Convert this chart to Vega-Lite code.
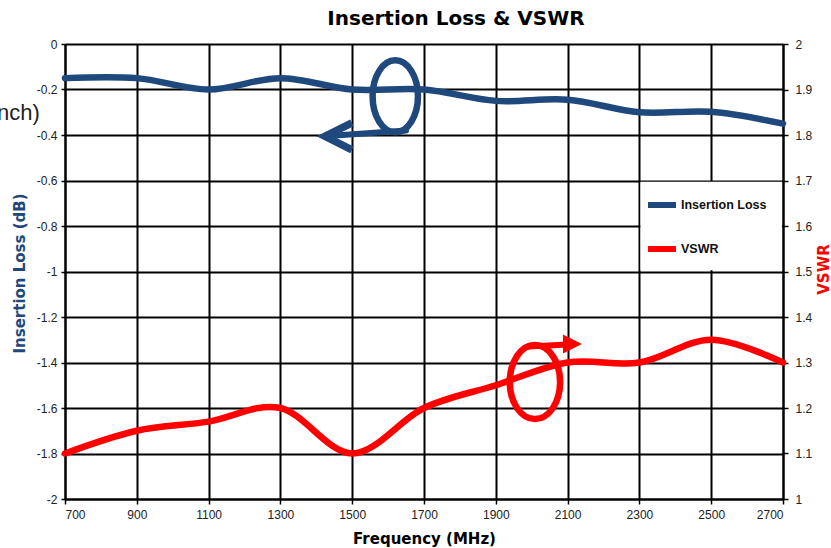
{
  "$schema": "https://vega.github.io/schema/vega-lite/v6.json",
  "width": 718,
  "height": 455,
  "autosize": {"type": "none"},
  "padding": {"left": 65, "top": 44, "right": 48, "bottom": 49},
  "background": "white",
  "title": {"text": "Insertion Loss & VSWR", "font": "DejaVu Sans", "fontSize": 20, "fontWeight": "bold", "color": "#000", "anchor": "middle", "dx": 32, "offset": 9},
  "config": {
    "view": {"stroke": null},
    "axis": {"domainColor": "#000", "domainWidth": 2, "gridColor": "#000", "gridWidth": 2, "gridOpacity": 1, "tickColor": "#000", "tickWidth": 1.5, "labelFont": "Liberation Sans", "labelFontSize": 12, "labelColor": "#222", "titleFont": "DejaVu Sans", "titleFontSize": 15, "titleFontWeight": "bold"}
  },
  "datasets": {
    "main": [
      {"f": 700, "series": "Insertion Loss", "v": -0.15},
      {"f": 900, "series": "Insertion Loss", "v": -0.15},
      {"f": 1100, "series": "Insertion Loss", "v": -0.2},
      {"f": 1300, "series": "Insertion Loss", "v": -0.15},
      {"f": 1500, "series": "Insertion Loss", "v": -0.2},
      {"f": 1700, "series": "Insertion Loss", "v": -0.2},
      {"f": 1900, "series": "Insertion Loss", "v": -0.25},
      {"f": 2100, "series": "Insertion Loss", "v": -0.245},
      {"f": 2300, "series": "Insertion Loss", "v": -0.3},
      {"f": 2500, "series": "Insertion Loss", "v": -0.298},
      {"f": 2700, "series": "Insertion Loss", "v": -0.35},
      {"f": 700, "series": "VSWR", "v": 1.1},
      {"f": 900, "series": "VSWR", "v": 1.15},
      {"f": 1100, "series": "VSWR", "v": 1.17},
      {"f": 1300, "series": "VSWR", "v": 1.2},
      {"f": 1500, "series": "VSWR", "v": 1.1},
      {"f": 1700, "series": "VSWR", "v": 1.2},
      {"f": 1900, "series": "VSWR", "v": 1.25},
      {"f": 2100, "series": "VSWR", "v": 1.3},
      {"f": 2300, "series": "VSWR", "v": 1.3},
      {"f": 2500, "series": "VSWR", "v": 1.35},
      {"f": 2700, "series": "VSWR", "v": 1.3}
    ]
  },
  "encoding": {
    "x": {
      "field": "f", "type": "quantitative",
      "scale": {"domain": [700, 2700], "nice": false, "zero": false},
      "axis": {"values": [700, 900, 1100, 1300, 1500, 1700, 1900, 2100, 2300, 2500, 2700], "labelExpr": "format(datum.value, '~g')", "grid": true, "title": "Frequency (MHz)", "titleColor": "#000", "titleY": 39, "titleBaseline": "middle", "tickSize": 5, "labelPadding": 5}
    }
  },
  "layer": [
    {
      "encoding": {
        "y": {
          "field": "v", "type": "quantitative",
          "scale": {"domain": [-2, 0], "nice": false, "zero": false},
          "axis": {"orient": "left", "values": [0, -0.2, -0.4, -0.6, -0.8, -1, -1.2, -1.4, -1.6, -1.8, -2], "labelExpr": "(datum.value < 0 ? '-' : '') + format(abs(datum.value), '~g')", "grid": true, "title": "Insertion Loss (dB)", "titleColor": "#1F497D", "titleAngle": 270, "titleX": -46, "titleY": 229, "titleAlign": "center", "titleBaseline": "middle", "tickSize": 4, "labelPadding": 4}
        }
      },
      "layer": [
        {
          "data": {"values": [{"f": 2303, "f2": 2697, "v": -0.605, "v2": -0.995}]},
          "mark": {"type": "rect", "fill": "white"},
          "encoding": {"x2": {"field": "f2"}, "y2": {"field": "v2"}}
        },
        {
          "data": {"name": "main"},
          "transform": [{"filter": "datum.series === 'Insertion Loss'"}],
          "mark": {"type": "line", "interpolate": "cardinal", "strokeWidth": 6.5, "strokeCap": "round"},
          "encoding": {
            "color": {"field": "series", "type": "nominal", "scale": {"domain": ["Insertion Loss", "VSWR"], "range": ["#1F497D", "#FF0000"]},
              "legend": {"orient": "none", "legendX": 580, "legendY": 144, "title": null, "symbolType": "stroke", "symbolSize": 784, "symbolStrokeWidth": 6, "labelFont": "Liberation Sans", "labelFontSize": 12.5, "labelFontWeight": "bold", "labelColor": "#111", "rowPadding": 15, "padding": 0, "labelOffset": 2}}
          }
        },
        {
          "data": {"values": [{"f": 1620, "v": -0.23}]},
          "mark": {"type": "point", "shape": "M0,-1 A0.63,1 0 1 1 0,1 A0.63,1 0 1 1 0,-1", "size": 5184, "filled": false, "stroke": "#1F497D", "strokeWidth": 6.5, "opacity": 1},
          "encoding": {}
        },
        {
          "data": {"values": [{"f": 1424, "v": -0.406}, {"f": 1650, "v": -0.38}]},
          "mark": {"type": "line", "color": "#1F497D", "strokeWidth": 6, "strokeCap": "round"},
          "encoding": {}
        },
        {
          "data": {"values": [{"f": 1424, "v": -0.406}]},
          "mark": {"type": "point", "shape": "M1,-0.5 L0,0 L1,0.5", "size": 2916, "filled": false, "stroke": "#1F497D", "strokeWidth": 7.5, "opacity": 1},
          "encoding": {}
        },
        {
          "data": {"values": [{"f": 2009, "v": -1.486}]},
          "mark": {"type": "point", "shape": "M0,-1 A0.68,1 0 1 1 0,1 A0.68,1 0 1 1 0,-1", "size": 5476, "filled": false, "stroke": "#FF0000", "strokeWidth": 6.5, "opacity": 1},
          "encoding": {}
        },
        {
          "data": {"values": [{"f": 1990, "v": -1.33}, {"f": 2115, "v": -1.32}]},
          "mark": {"type": "line", "color": "#FF0000", "strokeWidth": 6, "strokeCap": "round"},
          "encoding": {}
        },
        {
          "data": {"values": [{"f": 2140, "v": -1.319}]},
          "mark": {"type": "point", "shape": "M-1,-0.5 L0,0 L-1,0.5 Z", "size": 1444, "filled": true, "fill": "#FF0000", "opacity": 1},
          "encoding": {}
        },
        {
          "data": {"values": [{"f": 630, "v": -0.305, "t": "nch)"}]},
          "mark": {"type": "text", "align": "right", "baseline": "middle", "font": "Liberation Sans", "fontSize": 22, "color": "#222"},
          "encoding": {"text": {"field": "t"}}
        }
      ]
    },
    {
      "data": {"name": "main"},
      "transform": [{"filter": "datum.series === 'VSWR'"}],
      "mark": {"type": "line", "interpolate": "cardinal", "strokeWidth": 6.5, "strokeCap": "round"},
      "encoding": {
        "y": {
          "field": "v", "type": "quantitative",
          "scale": {"domain": [1, 2], "nice": false, "zero": false},
          "axis": {"orient": "right", "values": [1, 1.1, 1.2, 1.3, 1.4, 1.5, 1.6, 1.7, 1.8, 1.9, 2], "labelExpr": "format(datum.value, '~g')", "grid": false, "title": "VSWR", "titleColor": "#FF0000", "titleAngle": 270, "titleX": 40, "titleY": 225, "titleAlign": "center", "titleBaseline": "middle", "tickSize": 5, "labelPadding": 7}
        },
        "color": {"field": "series", "type": "nominal", "scale": {"domain": ["Insertion Loss", "VSWR"], "range": ["#1F497D", "#FF0000"]},
          "legend": {"orient": "none", "legendX": 580, "legendY": 144, "title": null, "symbolType": "stroke", "symbolSize": 784, "symbolStrokeWidth": 6, "labelFont": "Liberation Sans", "labelFontSize": 12.5, "labelFontWeight": "bold", "labelColor": "#111", "rowPadding": 15, "padding": 0, "labelOffset": 2}}
      }
    }
  ],
  "resolve": {"scale": {"y": "independent"}}
}
